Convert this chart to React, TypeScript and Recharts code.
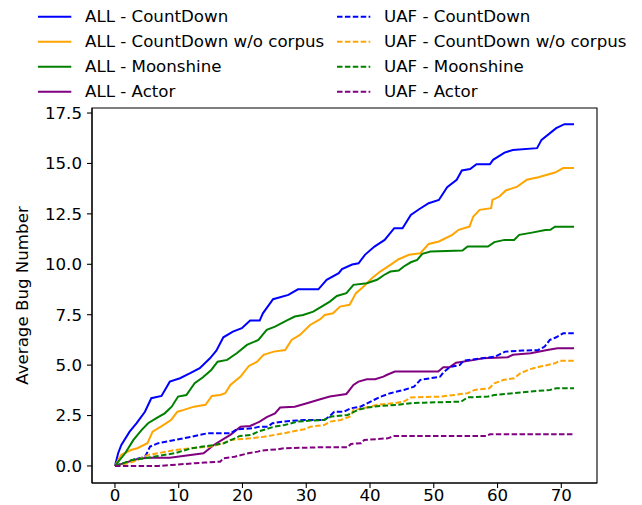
import React from 'react';
import { LineChart, Line, XAxis, YAxis, ReferenceArea } from 'recharts';

type Pt = [number, number];

// values (hours, average bug number)
const allCountDown: Pt[] = [
    [0, 0], [0.5, 0.63], [1, 1.04], [2.3, 1.7], [3.4, 2.12], [4.7, 2.69], [5.7, 3.36], [7.3, 3.47],
    [8.6, 4.18], [10.2, 4.35], [11.8, 4.6], [13.3, 4.85], [14.9, 5.34], [15.9, 5.72], [17, 6.38],
    [18.5, 6.66], [19.9, 6.83], [21.2, 7.21], [22.7, 7.21], [23.2, 7.57], [24.8, 8.27], [27.2, 8.48],
    [28.7, 8.76], [31.9, 8.76], [33.2, 9.23], [35.1, 9.56], [35.6, 9.76], [37.2, 9.99], [38.2, 10.05],
    [39.2, 10.47], [40.7, 10.88], [42.3, 11.21], [43.8, 11.79], [45.1, 11.79], [46.4, 12.45],
    [47.7, 12.73], [49.2, 13.03], [50.8, 13.19], [52.1, 13.82], [53.6, 14.19], [54.4, 14.65],
    [55.7, 14.72], [56.7, 14.96], [58.8, 14.96], [59.3, 15.18], [61.1, 15.54], [62.4, 15.67],
    [66.2, 15.76], [66.9, 16.17], [69.2, 16.75], [70.5, 16.95], [72, 16.95],
];
const allNoCorpus: Pt[] = [
    [0, 0], [1, 0.55], [2.5, 0.79], [3.5, 0.88], [5.1, 1.13], [5.9, 1.7], [7.2, 1.95], [8.8, 2.28],
    [9.8, 2.69], [10.8, 2.78], [12.4, 2.94], [14.2, 3.03], [15.2, 3.47], [16.5, 3.52], [17.3, 3.61],
    [18.1, 4.02], [19.7, 4.43], [21, 4.96], [22.3, 5.17], [23.3, 5.51], [24.9, 5.67], [26.7, 5.75],
    [27.7, 6.25], [29, 6.5], [30.6, 6.99], [32.2, 7.28], [32.9, 7.49], [34.2, 7.57], [35.3, 7.9],
    [36.8, 7.99], [37.8, 8.57], [39, 8.9], [40.3, 9.31], [41.6, 9.64], [43.2, 9.97], [44.5, 10.25],
    [46.1, 10.47], [47.9, 10.55], [49.2, 11.01], [50.8, 11.13], [52.9, 11.46], [53.9, 11.71],
    [55.6, 11.87], [56.2, 12.37], [57.2, 12.7], [59, 12.78], [59.2, 13.19], [60.3, 13.36],
    [61.3, 13.66], [63.1, 13.85], [64.6, 14.19], [66.4, 14.32], [69, 14.55], [70.3, 14.77], [72, 14.77],
];
const allMoonshine: Pt[] = [
    [0, 0], [1.6, 0.63], [2.9, 1.29], [4.2, 1.79], [5.2, 2.12], [6.5, 2.37], [7.8, 2.61], [8.9, 2.94],
    [9.9, 3.44], [11.2, 3.52], [12.5, 4.1], [13.8, 4.4], [15.1, 4.76], [16.1, 5.17], [17.6, 5.26],
    [19.1, 5.59], [20.7, 6.0], [22.5, 6.25], [23.8, 6.75], [25.1, 6.91], [26.9, 7.21], [28.2, 7.41],
    [29.5, 7.49], [31.1, 7.65], [32.6, 7.94], [33.7, 8.15], [34.8, 8.43], [36.3, 8.57], [37.4, 8.98],
    [39.5, 9.06], [41.1, 9.23], [42.2, 9.47], [43.2, 9.64], [44.5, 9.69], [45.3, 9.89], [46.4, 10.1],
    [47.4, 10.22], [48.2, 10.52], [49.5, 10.63], [54.5, 10.68], [55.3, 10.88], [58.5, 10.88],
    [59.5, 11.1], [61.1, 11.21], [62.6, 11.21], [63.4, 11.46], [65.4, 11.57], [67.5, 11.7],
    [68.3, 11.71], [69, 11.86], [72, 11.86],
];
const allActor: Pt[] = [
    [0, 0], [1.3, 0.13], [3.4, 0.33], [5, 0.41], [8.6, 0.41], [13.9, 0.63], [15.5, 1.04], [16.8, 1.29],
    [18.1, 1.54], [19.7, 1.94], [21.2, 1.98], [22.7, 2.2], [23.8, 2.42], [25.1, 2.61], [25.9, 2.9],
    [28.2, 2.94], [30.1, 3.11], [32.2, 3.31], [33.7, 3.44], [36.3, 3.57], [37.4, 4.02], [38.2, 4.18],
    [39.5, 4.3], [40.8, 4.3], [42.1, 4.43], [42.6, 4.51], [43.9, 4.68], [50.7, 4.68], [51.5, 4.9],
    [52.5, 4.9], [53.5, 5.12], [56.4, 5.26], [57.7, 5.34], [61.6, 5.39], [62.4, 5.51], [65.2, 5.59],
    [67.8, 5.75], [69.4, 5.84], [72, 5.84],
];
const uafCountDown: Pt[] = [
    [0, 0], [1.6, 0.13], [3.1, 0.33], [4.7, 0.45], [5, 0.63], [5.5, 0.96], [6.8, 1.13], [9.4, 1.29],
    [12, 1.45], [14.5, 1.62], [18.1, 1.62], [19.1, 1.82], [21.6, 1.87], [22.7, 1.95], [24, 1.95],
    [24.7, 2.12], [26.3, 2.2], [29.7, 2.28], [32.8, 2.28], [33.6, 2.45], [34.4, 2.69], [35.9, 2.69],
    [37, 2.86], [38.5, 2.94], [40.6, 3.27], [41.7, 3.44], [43.2, 3.61], [45.3, 3.77], [46.9, 3.93],
    [47.9, 4.27], [49.5, 4.35], [51, 4.43], [51.5, 4.63], [52.5, 4.9], [54.1, 5.01], [54.7, 5.22],
    [59.6, 5.42], [61.2, 5.67], [64, 5.72], [66.4, 5.75], [67.4, 5.92], [68.2, 6.25], [69.2, 6.38],
    [70.3, 6.58], [72, 6.58],
];
const uafNoCorpus: Pt[] = [
    [0, 0], [2, 0.13], [3.6, 0.3], [5.2, 0.55], [6.8, 0.63], [9.4, 0.79], [12, 0.88], [15, 0.96],
    [17.1, 1.13], [18.1, 1.29], [21.2, 1.37], [23.4, 1.45], [25, 1.54], [26.5, 1.62], [27.6, 1.7],
    [29.7, 1.82], [30.7, 1.95], [32.8, 2.03], [33.8, 2.2], [35.4, 2.28], [36.9, 2.45], [37.4, 2.78],
    [39, 2.86], [41.1, 3.03], [43.8, 3.11], [45.3, 3.19], [46.4, 3.4], [51.1, 3.44], [53.2, 3.52],
    [55.3, 3.61], [56.4, 3.77], [58.7, 3.85], [59.5, 4.1], [61, 4.27], [62.6, 4.35], [63.6, 4.6],
    [65.1, 4.8], [66.7, 4.93], [69, 5.09], [69.8, 5.22], [72, 5.22],
];
const uafMoonshine: Pt[] = [
    [0, 0], [1.6, 0.17], [2.7, 0.3], [4.7, 0.38], [6.8, 0.5], [9.4, 0.63], [12, 0.88], [13.8, 0.96],
    [15.5, 1.04], [17.1, 1.13], [18.8, 1.37], [19.6, 1.49], [21.4, 1.54], [22.4, 1.7], [25, 1.95],
    [26.6, 2.03], [28.7, 2.2], [30.7, 2.25], [32.8, 2.28], [33.9, 2.45], [36.5, 2.53], [38.1, 2.78],
    [39.6, 2.9], [41.7, 2.98], [44.3, 3.03], [46.4, 3.11], [48.6, 3.14], [54.3, 3.19], [55.3, 3.4],
    [58.5, 3.44], [59.5, 3.52], [62.6, 3.61], [65.1, 3.69], [68.2, 3.77], [69.2, 3.85], [72, 3.85],
];
const uafActor: Pt[] = [
    [0, 0], [6.8, 0], [8.9, 0.05], [14.1, 0.17], [16.5, 0.21], [17, 0.38], [18.8, 0.46], [20.9, 0.63],
    [22.4, 0.71], [22.9, 0.76], [25.6, 0.83], [26.6, 0.88], [32.8, 0.93], [36.5, 0.93], [37, 1.09],
    [38.6, 1.13], [39.1, 1.29], [42.8, 1.37], [43.8, 1.49], [58.3, 1.49], [58.8, 1.57], [72, 1.57],
];

const xTicks = [0, 10, 20, 30, 40, 50, 60, 70];
const yTicks = [0, 2.5, 5, 7.5, 10, 12.5, 15, 17.5];

const series = [
    { name: 'ALL - CountDown', pts: allCountDown, color: '#0000ff', dashed: false },
    { name: 'ALL - CountDown w/o corpus', pts: allNoCorpus, color: '#ffa500', dashed: false },
    { name: 'ALL - Moonshine', pts: allMoonshine, color: '#008000', dashed: false },
    { name: 'ALL - Actor', pts: allActor, color: '#800080', dashed: false },
    { name: 'UAF - CountDown', pts: uafCountDown, color: '#0000ff', dashed: true },
    { name: 'UAF - CountDown w/o corpus', pts: uafNoCorpus, color: '#ffa500', dashed: true },
    { name: 'UAF - Moonshine', pts: uafMoonshine, color: '#008000', dashed: true },
    { name: 'UAF - Actor', pts: uafActor, color: '#800080', dashed: true },
];

const X_DOMAIN: [number, number] = [-3.6, 75.6];
const Y_DOMAIN: [number, number] = [-0.845, 17.75];
const FONT = 'DejaVu Sans, sans-serif';
const DASH = '5.5 2.4';

const Legend2Col = () => (
    <svg width={642} height={105} style={{ position: 'absolute', left: 0, top: 0 }}>
        {series.map((s, i) => {
            const col = i < 4 ? 0 : 1;
            const row = i % 4;
            const x0 = col === 0 ? 38 : 337;
            const y = 16.7 + row * 25;
            return (
                <g key={s.name}>
                    <line x1={x0} x2={x0 + 33.3} y1={y} y2={y} stroke={s.color} strokeWidth={2}
                        strokeDasharray={s.dashed ? DASH : undefined} />
                    <text x={x0 + 47} y={y} dominantBaseline="central" fontFamily={FONT}
                        fontSize={16.67} fill="#000">{s.name}</text>
                </g>
            );
        })}
    </svg>
);

export default function App() {
    const tickStyle = { fill: '#000', fontSize: 16.67, fontFamily: FONT };
    return (
        <div style={{ position: 'absolute', left: 0, top: 0, width: 642, height: 505, background: '#fff' }}>
            <LineChart width={642} height={505} margin={{ top: 108, right: 45, bottom: 0, left: 0 }}>
                <XAxis type="number" dataKey="x" domain={X_DOMAIN} ticks={xTicks} interval={0}
                    allowDataOverflow height={22} tickSize={5} tickMargin={1}
                    axisLine={{ stroke: '#000', strokeWidth: 1.1 }} tickLine={{ stroke: '#000', strokeWidth: 1.1 }}
                    tick={tickStyle} />
                <YAxis type="number" domain={Y_DOMAIN} ticks={yTicks} interval={0} allowDataOverflow
                    width={92} tickSize={5} tickMargin={5}
                    tickFormatter={(v: number) => v.toFixed(1)}
                    axisLine={{ stroke: '#000', strokeWidth: 1.1 }} tickLine={{ stroke: '#000', strokeWidth: 1.1 }}
                    tick={tickStyle}
                    label={{ value: 'Average Bug Number', angle: -90, position: 'insideLeft', offset: 22,
                        style: { textAnchor: 'middle', fill: '#000', fontSize: 16.67, fontFamily: FONT } }} />
                <ReferenceArea x1={X_DOMAIN[0]} x2={X_DOMAIN[1]} y1={Y_DOMAIN[0]} y2={Y_DOMAIN[1]}
                    fill="none" fillOpacity={0} stroke="#000" strokeWidth={1.1} ifOverflow="visible" />
                {series.map((s) => (
                    <Line key={s.name} name={s.name} data={s.pts.map(([x, y]) => ({ x, y }))}
                        dataKey="y" type="linear" stroke={s.color} strokeWidth={2}
                        strokeDasharray={s.dashed ? DASH : undefined} dot={false}
                        activeDot={false} isAnimationActive={false} />
                ))}
            </LineChart>
            <Legend2Col />
        </div>
    );
}
